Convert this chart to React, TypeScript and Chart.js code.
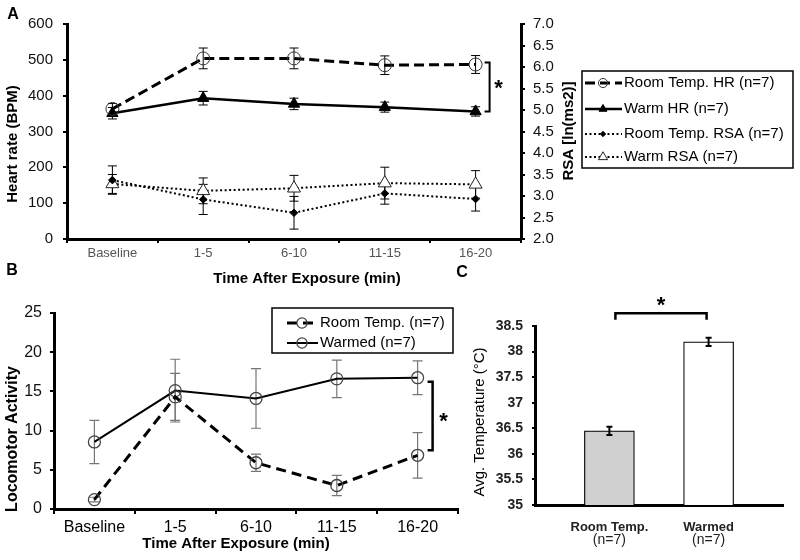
import React, { useEffect, useRef } from 'react';
import { Chart, registerables } from 'chart.js';
import { drawPoint } from 'chart.js/helpers';

Chart.register(...registerables);

const FONT = "'Liberation Sans', Arial, sans-serif";
Chart.defaults.font.family = FONT;
Chart.defaults.color = '#000';

// ---------- Panel A data ----------
const categories = ['Baseline', '1-5', '6-10', '11-15', '16-20'];
const roomHR = [363, 504, 504, 485, 487];
const roomHRErr = [15, 29, 29, 26, 25];
const warmHR = [351, 393, 377, 368, 356];
const warmHRErr = [16, 19, 16, 14, 13];
const roomRSA = [3.37, 2.92, 2.61, 3.06, 2.93];
const roomRSAErr = [0.33, 0.35, 0.38, 0.25, 0.28];
const warmRSA = [3.28, 3.12, 3.18, 3.3, 3.27];
const warmRSAErr = [0.22, 0.3, 0.3, 0.37, 0.32];

// ---------- Panel B data ----------
const roomAct = [1.2, 14.3, 5.9, 3.0, 6.85];
const roomActErr = [0.3, 3.0, 1.1, 1.3, 2.9];
const warmAct = [8.55, 15.1, 14.1, 16.6, 16.75];
const warmActErr = [2.75, 4.0, 3.8, 2.4, 2.15];

// ---------- Panel C data ----------
const tempGroups = ['Room Temp.', 'Warmed'];
const tempN = ['(n=7)', '(n=7)'];
const tempMeans = [36.45, 38.19];
const tempErr = [0.08, 0.08];

function drawText(ctx: any, str: string, x: number, y: number, font: string, opts: any = {}) {
  ctx.save();
  ctx.translate(x, y);
  if (opts.rotation) ctx.rotate(opts.rotation);
  ctx.font = font;
  ctx.fillStyle = opts.color || '#000';
  ctx.textAlign = opts.align || 'center';
  ctx.textBaseline = opts.baseline || 'middle';
  ctx.fillText(str, 0, 0);
  ctx.restore();
}

function drawStar(ctx: any, x: number, cy: number, size: number) {
  drawText(ctx, '*', x, cy + 0.56 * size, `bold ${size}px ${FONT}`, { baseline: 'alphabetic' });
}

function makeErrorBars(id: string, style: any) {
  const draw = (chart: any) => {
    const ctx = chart.ctx;
    chart.data.datasets.forEach((ds: any, di: number) => {
      const errs = ds.errors;
      if (!errs) return;
      const meta = chart.getDatasetMeta(di);
      const ys = chart.scales[meta.yAxisID];
      ctx.save();
      ctx.strokeStyle = style.color;
      ctx.lineWidth = style.width;
      ctx.setLineDash([]);
      meta.data.forEach((el: any, i: number) => {
        const raw = ds.data[i];
        const v = typeof raw === 'number' ? raw : raw.y;
        const e = errs[i];
        const x = el.x;
        const y1 = ys.getPixelForValue(v + e);
        const y2 = ys.getPixelForValue(v - e);
        ctx.beginPath();
        ctx.moveTo(x, y1);
        ctx.lineTo(x, y2);
        ctx.moveTo(x - style.cap, y1);
        ctx.lineTo(x + style.cap, y1);
        ctx.moveTo(x - style.cap, y2);
        ctx.lineTo(x + style.cap, y2);
        ctx.stroke();
      });
      ctx.restore();
    });
  };
  return style.after ? { id, afterDatasetsDraw: draw } : { id, beforeDatasetsDraw: draw };
}

function makeLegend(id: string, cfg: any) {
  return {
    id,
    afterDraw(chart: any) {
      const ctx = chart.ctx;
      ctx.save();
      ctx.strokeStyle = '#000';
      ctx.lineWidth = 1.5;
      ctx.strokeRect(cfg.box.x, cfg.box.y, cfg.box.w, cfg.box.h);
      chart.data.datasets.forEach((ds: any, i: number) => {
        const ry = cfg.rows[i];
        ctx.save();
        ctx.strokeStyle = ds.borderColor;
        ctx.lineWidth = ds.borderWidth;
        ctx.setLineDash(ds.borderDash || []);
        ctx.beginPath();
        ctx.moveTo(cfg.lineX0, ry);
        ctx.lineTo(cfg.lineX1, ry);
        ctx.stroke();
        ctx.setLineDash([]);
        ctx.fillStyle = ds.pointBackgroundColor;
        ctx.strokeStyle = ds.pointBorderColor;
        ctx.lineWidth = ds.pointBorderWidth;
        drawPoint(ctx, {
          pointStyle: ds.pointStyle,
          radius: ds.pointRadius * cfg.markerScale,
          borderWidth: ds.pointBorderWidth,
          rotation: 0,
        } as any, cfg.markerX, ry);
        ctx.restore();
        drawText(ctx, ds.label, cfg.textX, ry, cfg.font, { align: 'left' });
      });
      ctx.restore();
    },
  };
}

const axisBorder = { display: true, color: '#000', width: 3 };

export default function App() {
  const refA = useRef<HTMLCanvasElement>(null);
  const refB = useRef<HTMLCanvasElement>(null);
  const refC = useRef<HTMLCanvasElement>(null);

  useEffect(() => {
    // ---------------- Panel A ----------------
    const extrasA = {
      id: 'extrasA',
      afterDraw(chart: any) {
        const ctx = chart.ctx;
        const xs = chart.scales.x;
        const ys = chart.scales.y;
        drawText(ctx, 'Heart rate (BPM)', 13, 144, `bold 15px ${FONT}`, { rotation: -Math.PI / 2 });
        drawText(ctx, 'RSA [ln(ms2)]', 569, 131, `bold 15px ${FONT}`, { rotation: -Math.PI / 2 });
        drawText(ctx, 'Time After Exposure (min)', 307, 279, `bold 15px ${FONT}`);
        drawText(ctx, 'A', 13, 15, `bold 16px ${FONT}`);
        drawText(ctx, 'B', 12, 271, `bold 16px ${FONT}`);
        drawText(ctx, 'C', 462, 273, `bold 16px ${FONT}`);
        const bx = xs.getPixelForValue(4) + 14;
        const yt = ys.getPixelForValue(roomHR[4]) - 2;
        const yb = ys.getPixelForValue(warmHR[4]);
        ctx.save();
        ctx.strokeStyle = '#000';
        ctx.lineWidth = 2;
        ctx.beginPath();
        ctx.moveTo(bx - 5, yt);
        ctx.lineTo(bx, yt);
        ctx.lineTo(bx, yb);
        ctx.lineTo(bx - 5, yb);
        ctx.stroke();
        ctx.restore();
        drawStar(ctx, bx + 9, (yt + yb) / 2 - 4, 22);
      },
    };

    const chartA = new Chart(refA.current!, {
      type: 'line',
      data: {
        labels: categories,
        datasets: [
          {
            label: 'Room Temp. HR (n=7)', data: roomHR, errors: roomHRErr, yAxisID: 'y',
            borderColor: '#000', borderWidth: 3, borderDash: [10, 5],
            pointStyle: 'circle', pointRadius: 6.5, pointBorderWidth: 1,
            pointBorderColor: '#333', pointBackgroundColor: 'rgba(255,255,255,0)',
          },
          {
            label: 'Warm HR (n=7)', data: warmHR, errors: warmHRErr, yAxisID: 'y',
            borderColor: '#000', borderWidth: 2.5,
            pointStyle: 'triangle', pointRadius: 6.5, pointBorderWidth: 1,
            pointBorderColor: '#000', pointBackgroundColor: '#000',
          },
          {
            label: 'Room Temp. RSA (n=7)', data: roomRSA, errors: roomRSAErr, yAxisID: 'y1',
            borderColor: '#000', borderWidth: 2, borderDash: [2, 2.5],
            pointStyle: 'rectRot', pointRadius: 3.8, pointBorderWidth: 1,
            pointBorderColor: '#000', pointBackgroundColor: '#000',
          },
          {
            label: 'Warm RSA (n=7)', data: warmRSA, errors: warmRSAErr, yAxisID: 'y1',
            borderColor: '#000', borderWidth: 2, borderDash: [2, 2.5],
            pointStyle: 'triangle', pointRadius: 7.5, pointBorderWidth: 1,
            pointBorderColor: '#222', pointBackgroundColor: '#fff',
          },
        ] as any,
      },
      options: {
        responsive: false,
        animation: false,
        layout: { padding: { top: 24, right: 241, bottom: 0, left: 0 } },
        plugins: { legend: { display: false }, tooltip: { enabled: false } },
        scales: {
          x: {
            offset: true,
            grid: { offset: true, drawOnChartArea: false, drawTicks: true, tickLength: 4, color: '#000', lineWidth: 2 },
            border: axisBorder,
            ticks: { color: '#555', font: { size: 13 }, padding: 3, maxRotation: 0, autoSkip: false },
            afterFit: (s: any) => { s.height = 51; },
          },
          y: {
            min: 0, max: 600,
            grid: { drawOnChartArea: false, drawTicks: true, tickLength: 4, color: '#000', lineWidth: 2 },
            border: axisBorder,
            ticks: { stepSize: 100, color: '#111', font: { size: 15 }, padding: 10 },
            afterFit: (s: any) => { s.width = 67; },
          },
          y1: {
            position: 'right', min: 2, max: 7,
            grid: { drawOnChartArea: false, drawTicks: true, tickLength: 4, color: '#000', lineWidth: 2 },
            border: axisBorder,
            ticks: { stepSize: 0.5, color: '#111', font: { size: 15 }, padding: 8, callback: (v: any) => Number(v).toFixed(1) },
            afterFit: (s: any) => { s.width = 38; },
          },
        },
      } as any,
      plugins: [
        makeErrorBars('errA', { color: '#000', width: 1, cap: 4.5, after: false }),
        makeLegend('legA', {
          box: { x: 582, y: 71, w: 211, h: 97 }, rows: [83, 109, 134, 157],
          lineX0: 585, lineX1: 622, markerX: 603, markerScale: 0.7, textX: 624, font: `15px ${FONT}`,
        }),
        extrasA,
      ],
    });

    // ---------------- Panel B ----------------
    const extrasB = {
      id: 'extrasB',
      afterDraw(chart: any) {
        const ctx = chart.ctx;
        const xs = chart.scales.x;
        const ys = chart.scales.y;
        drawText(ctx, 'Locomotor Activity', 13, 149, `bold 16px ${FONT}`, { rotation: -Math.PI / 2 });
        drawText(ctx, 'Time After Exposure (min)', 236, 254, `bold 15px ${FONT}`);
        const bx = xs.getPixelForValue(4) + 15;
        const yt = ys.getPixelForValue(warmAct[4]) + 4;
        const yb = ys.getPixelForValue(roomAct[4]) - 5;
        ctx.save();
        ctx.strokeStyle = '#000';
        ctx.lineWidth = 2.5;
        ctx.beginPath();
        ctx.moveTo(bx - 5, yt);
        ctx.lineTo(bx, yt);
        ctx.lineTo(bx, yb);
        ctx.lineTo(bx - 5, yb);
        ctx.stroke();
        ctx.restore();
        drawStar(ctx, bx + 11, (yt + yb) / 2, 22);
      },
    };

    const chartB = new Chart(refB.current!, {
      type: 'line',
      data: {
        labels: categories,
        datasets: [
          {
            label: 'Room Temp. (n=7)', data: roomAct, errors: roomActErr,
            borderColor: '#000', borderWidth: 3, borderDash: [10, 6],
            pointStyle: 'circle', pointRadius: 6, pointBorderWidth: 1.3,
            pointBorderColor: '#444', pointBackgroundColor: 'rgba(255,255,255,0)',
          },
          {
            label: 'Warmed (n=7)', data: warmAct, errors: warmActErr,
            borderColor: '#000', borderWidth: 2,
            pointStyle: 'circle', pointRadius: 6, pointBorderWidth: 1.3,
            pointBorderColor: '#444', pointBackgroundColor: 'rgba(255,255,255,0)',
          },
        ] as any,
      },
      options: {
        responsive: false,
        animation: false,
        layout: { padding: { top: 23, right: 12, bottom: 0, left: 0 } },
        plugins: { legend: { display: false }, tooltip: { enabled: false } },
        scales: {
          x: {
            offset: true,
            grid: { offset: true, drawOnChartArea: false, drawTicks: true, tickLength: 5, color: '#000', lineWidth: 2 },
            border: axisBorder,
            ticks: { color: '#000', font: { size: 16 }, padding: 4, maxRotation: 0, autoSkip: false },
            afterFit: (s: any) => { s.height = 51; },
          },
          y: {
            min: 0, max: 25,
            grid: { drawOnChartArea: false, drawTicks: true, tickLength: 4, color: '#000', lineWidth: 2 },
            border: axisBorder,
            ticks: { stepSize: 5, color: '#111', font: { size: 16 }, padding: 8 },
            afterFit: (s: any) => { s.width = 54; },
          },
        },
      } as any,
      plugins: [
        makeErrorBars('errB', { color: '#777', width: 1.2, cap: 5, after: false }),
        makeLegend('legB', {
          box: { x: 272, y: 18, w: 181, h: 45 }, rows: [33, 53],
          lineX0: 287, lineX1: 318, markerX: 302, markerScale: 0.85, textX: 320, font: `15px ${FONT}`,
        }),
        extrasB,
      ],
    });

    // ---------------- Panel C ----------------
    const extrasC = {
      id: 'extrasC',
      afterDraw(chart: any) {
        const ctx = chart.ctx;
        const xs = chart.scales.x;
        const ys = chart.scales.y;
        drawText(ctx, 'Avg. Temperature (°C)', 10, 142, `15px ${FONT}`, { rotation: -Math.PI / 2 });
        tempN.forEach((t, i) => {
          drawText(ctx, t, xs.getPixelForValue(i), 260, `14px ${FONT}`, { color: '#222' });
        });
        const x0 = xs.getPixelForValue(0) + 6;
        const x1 = xs.getPixelForValue(1) - 2;
        const yt = ys.getPixelForValue(38.75);
        const yl = ys.getPixelForValue(38.62);
        ctx.save();
        ctx.strokeStyle = '#000';
        ctx.lineWidth = 2.5;
        ctx.beginPath();
        ctx.moveTo(x0, yl);
        ctx.lineTo(x0, yt);
        ctx.lineTo(x1, yt);
        ctx.lineTo(x1, yl);
        ctx.stroke();
        ctx.restore();
        drawStar(ctx, (x0 + x1) / 2, 20, 22);
      },
    };

    const X_MIN = -0.75;
    const X_MAX = 1.75;
    const chartC = new Chart(refC.current!, {
      type: 'bar',
      data: {
        datasets: [
          {
            label: 'Avg. Temperature',
            data: tempGroups.map((_, i) => ({ x: i, y: tempMeans[i] })),
            errors: tempErr,
            backgroundColor: ['#d0d0d0', '#ffffff'],
            borderColor: '#000',
            borderWidth: 1.2,
            barThickness: 50,
          },
        ] as any,
      },
      options: {
        responsive: false,
        animation: false,
        layout: { padding: { top: 46, right: 17, bottom: 0, left: 0 } },
        plugins: { legend: { display: false }, tooltip: { enabled: false } },
        scales: {
          x: {
            type: 'linear', min: X_MIN, max: X_MAX, offset: false, bounds: 'data',
            grid: { display: false, offset: false },
            border: axisBorder,
            afterBuildTicks: (s: any) => {
              s.ticks = tempGroups.map((_, i) => ({ value: i }));
              s.min = X_MIN;
              s.max = X_MAX;
            },
            ticks: { color: '#222', font: { size: 13, weight: 'bold' }, padding: 7, maxRotation: 0, autoSkip: false,
              callback: (v: any) => tempGroups[v] ?? '' },
            afterFit: (s: any) => { s.height = 55; },
          },
          y: {
            min: 35, max: 38.5,
            grid: { drawOnChartArea: false, drawTicks: true, tickLength: 3, color: '#000', lineWidth: 2 },
            border: axisBorder,
            ticks: { stepSize: 0.5, color: '#222', font: { size: 14, weight: 'bold' }, padding: 9,
              callback: (v: any) => String(Number(v)) },
            afterFit: (s: any) => { s.width = 65; },
          },
        },
      } as any,
      plugins: [
        makeErrorBars('errC', { color: '#000', width: 2, cap: 3, after: true }),
        extrasC,
      ],
    });

    return () => {
      chartA.destroy();
      chartB.destroy();
      chartC.destroy();
    };
  }, []);

  return (
    <div style={{ position: 'absolute', left: 0, top: 0, width: 800, height: 560, background: '#fff', overflow: 'hidden' }}>
      <canvas ref={refA} width={800} height={290} style={{ position: 'absolute', left: 0, top: 0, width: 800, height: 290 }} />
      <canvas ref={refB} width={470} height={270} style={{ position: 'absolute', left: 0, top: 290, width: 470, height: 270 }} />
      <canvas ref={refC} width={330} height={280} style={{ position: 'absolute', left: 470, top: 280, width: 330, height: 280 }} />
    </div>
  );
}
